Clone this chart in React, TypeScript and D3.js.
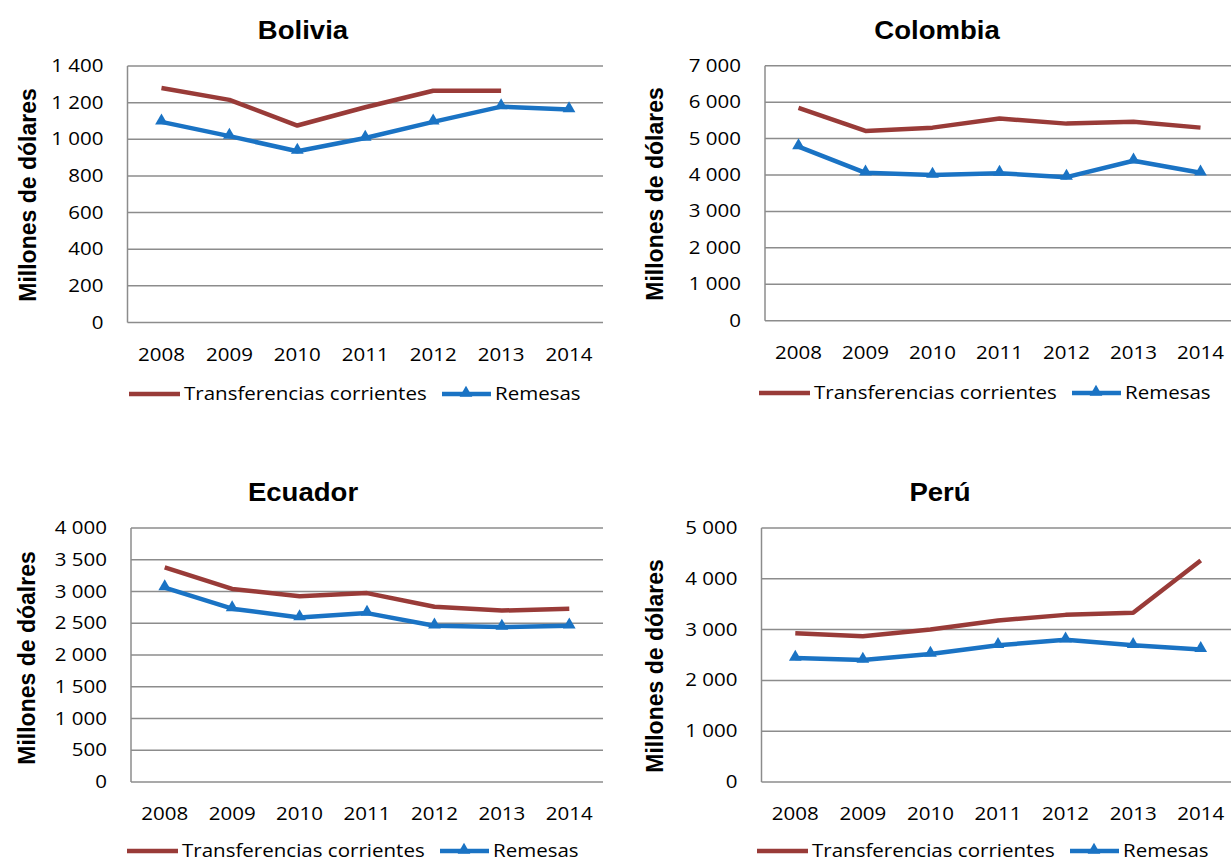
import * as d3 from "d3";

// years on the x axis
const YEARS = ["2008", "2009", "2010", "2011", "2012", "2013", "2014"];

const SERIES_NAMES = ["Transferencias corrientes", "Remesas"];

// values in millions of dollars
const boliviaTransfer = [1280, 1215, 1075, 1175, 1265, 1265, null];
const boliviaRemesas = [1095, 1017, 935, 1007, 1095, 1178, 1162];
const colombiaTransfer = [5840, 5210, 5300, 5550, 5410, 5460, 5300];
const colombiaRemesas = [4780, 4060, 4000, 4050, 3940, 4390, 4060];
const ecuadorTransfer = [3380, 3040, 2925, 2975, 2760, 2700, 2730];
const ecuadorRemesas = [3060, 2730, 2590, 2660, 2460, 2440, 2460];
const peruTransfer = [2930, 2870, 3000, 3180, 3290, 3330, 4360];
const peruRemesas = [2440, 2400, 2520, 2690, 2800, 2690, 2610];

const COLORS = ["#993b38", "#1a73c4"];
const GRID = "#8c8c8c";
const FONT = "'Open Sans', sans-serif";
const SX = 1.14; // horizontal stretch of the original picture

const fmt = d3
	.formatLocale({ decimal: ",", thousands: "\u00a0", grouping: [3], currency: ["", ""] })
	.format(",");

type Layout = {
	title: string;
	yLabel: string;
	transfer: (number | null)[];
	remesas: (number | null)[];
	max: number;
	step: number;
	x0: number;
	x1: number;
	yTop: number;
	yBot: number;
	titleX: number;
	titleY: number;
	yLabelX: number;
	yLabelY: number;
	yearY: number;
	legendX: number;
	legendY: number;
};

const panels: Layout[] = [
	{
		title: "Bolivia", yLabel: "Millones de dólares", transfer: boliviaTransfer, remesas: boliviaRemesas,
		max: 1400, step: 200, x0: 127.5, x1: 603, yTop: 66, yBot: 322.5,
		titleX: 303, titleY: 39, yLabelX: 28, yLabelY: 195, yearY: 361, legendX: 129, legendY: 394,
	},
	{
		title: "Colombia", yLabel: "Millones de dólares", transfer: colombiaTransfer, remesas: colombiaRemesas,
		max: 7000, step: 1000, x0: 765, x1: 1234, yTop: 65.7, yBot: 320.7,
		titleX: 937, titleY: 39, yLabelX: 655, yLabelY: 194, yearY: 359, legendX: 759, legendY: 393,
	},
	{
		title: "Ecuador", yLabel: "Millones de dóalres", transfer: ecuadorTransfer, remesas: ecuadorRemesas,
		max: 4000, step: 500, x0: 131, x1: 603, yTop: 528, yBot: 782,
		titleX: 303, titleY: 501, yLabelX: 27, yLabelY: 658, yearY: 820, legendX: 127, legendY: 851,
	},
	{
		title: "Perú", yLabel: "Millones de dólares", transfer: peruTransfer, remesas: peruRemesas,
		max: 5000, step: 1000, x0: 761.5, x1: 1234.5, yTop: 528, yBot: 782,
		titleX: 940, titleY: 501, yLabelX: 655, yLabelY: 666, yearY: 820, legendX: 757, legendY: 851,
	},
];

function Stretched({ x, y, anchor, size, weight, children }: any) {
	return (
		<text
			transform={`translate(${x},${y}) scale(${SX},1)`}
			textAnchor={anchor}
			fontFamily={FONT}
			fontSize={size}
			fontWeight={weight}
			fill="#000"
		>
			{children}
		</text>
	);
}

const triangle = d3.symbol(d3.symbolTriangle).size(70)();

function Panel({ p }: { p: Layout }) {
	const x = d3.scaleBand().domain(YEARS).range([p.x0, p.x1]);
	const y = d3.scaleLinear().domain([0, p.max]).range([p.yBot, p.yTop]);
	const ticks = d3.range(0, p.max + p.step / 2, p.step);
	const cx = (d: string) => (x(d) as number) + x.bandwidth() / 2;

	const line = d3
		.line<number | null>()
		.defined((d) => d != null)
		.x((_, i) => cx(YEARS[i]))
		.y((d) => y(d as number));

	const lx = p.legendX;
	const ly = p.legendY;

	return (
		<g>
			<text
				transform={`translate(${p.titleX},${p.titleY}) scale(1.06,1)`}
				textAnchor="middle"
				fontFamily="'Liberation Sans', Arial, sans-serif"
				fontWeight="bold"
				fontSize={26}
			>
				{p.title}
			</text>
			<text
				transform={`translate(${p.yLabelX},${p.yLabelY}) rotate(-90)`}
				textAnchor="middle"
				dominantBaseline="central"
				fontFamily="'Liberation Sans', Arial, sans-serif"
				fontWeight="bold"
				fontSize={23}
			>
				{p.yLabel}
			</text>

			{ticks.map((t) => (
				<g key={t}>
					<line x1={p.x0} x2={p.x1} y1={y(t)} y2={y(t)} stroke={GRID} strokeWidth={1.5} />
					<Stretched x={p.x0 - 24} y={y(t) + 6} anchor="end" size={18}>
						{fmt(t)}
					</Stretched>
				</g>
			))}
			<line x1={p.x0} x2={p.x0} y1={p.yTop} y2={p.yBot} stroke={GRID} strokeWidth={1.5} />

			{YEARS.map((yr) => (
				<Stretched key={yr} x={cx(yr)} y={p.yearY} anchor="middle" size={18}>
					{yr}
				</Stretched>
			))}

			<path d={line(p.transfer) ?? ""} fill="none" stroke={COLORS[0]} strokeWidth={4.5} strokeLinejoin="round" />
			<path d={line(p.remesas) ?? ""} fill="none" stroke={COLORS[1]} strokeWidth={4.5} strokeLinejoin="round" />
			{p.remesas.map((v, i) =>
				v == null ? null : (
					<path key={i} d={triangle ?? ""} transform={`translate(${cx(YEARS[i])},${y(v) - 1})`} fill={COLORS[1]} />
				)
			)}

			<line x1={lx} x2={lx + 51} y1={ly} y2={ly} stroke={COLORS[0]} strokeWidth={4.5} />
			<Stretched x={lx + 55} y={ly + 6} anchor="start" size={18}>
				{SERIES_NAMES[0]}
			</Stretched>
			<line x1={lx + 313} x2={lx + 362} y1={ly} y2={ly} stroke={COLORS[1]} strokeWidth={4.5} />
			<path d={triangle ?? ""} transform={`translate(${lx + 337},${ly - 1})`} fill={COLORS[1]} />
			<Stretched x={lx + 366} y={ly + 6} anchor="start" size={18}>
				{SERIES_NAMES[1]}
			</Stretched>
		</g>
	);
}

export default function App() {
	return (
		<svg
			width={1231}
			height={863}
			style={{ position: "absolute", left: 0, top: 0, background: "#fff" }}
		>
			{panels.map((p) => (
				<Panel key={p.title} p={p} />
			))}
		</svg>
	);
}
